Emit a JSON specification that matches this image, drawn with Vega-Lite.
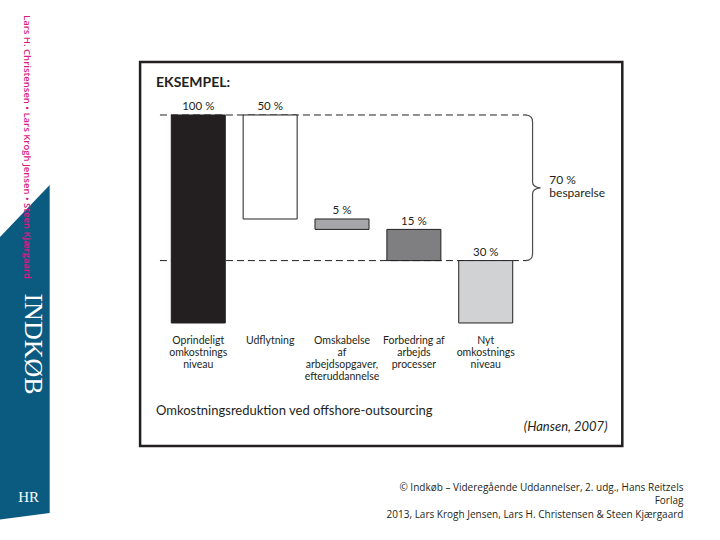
{
  "$schema": "https://vega.github.io/schema/vega-lite/v6.json",
  "width": 720,
  "height": 540,
  "autosize": {"type": "none"},
  "padding": 0,
  "background": "white",
  "config": {"view": {"stroke": null}, "axis": {"disable": true}, "legend": {"disable": true}},
  "data": {"values": [
    {"trin": 1, "navn": "Oprindeligt\nomkostnings\nniveau", "lo": 0, "hi": 100, "vaerdi": "100 %"},
    {"trin": 2, "navn": "Udflytning", "lo": 50, "hi": 100, "vaerdi": "50 %"},
    {"trin": 3, "navn": "Omskabelse\naf\narbejdsopgaver,\nefteruddannelse", "lo": 45, "hi": 50, "vaerdi": "5 %"},
    {"trin": 4, "navn": "Forbedring af\narbejds\nprocesser", "lo": 30, "hi": 45, "vaerdi": "15 %"},
    {"trin": 5, "navn": "Nyt\nomkostnings\nniveau", "lo": 0, "hi": 30, "vaerdi": "30 %"}
  ]},
  "layer": [
    {
      "data": {"values": [{}]},
      "mark": {"type": "point", "shape": "M-0.3,-1.2 L0.225,-1.75 L0.225,1.53 L-0.3,1.6 Z", "size": 40000, "filled": true, "color": "#0b5a80", "opacity": 1, "strokeWidth": 0},
      "encoding": {
        "x": {"datum": -1.38079, "type": "quantitative", "scale": {"domain": [-1.68954, 8.19039], "nice": false, "zero": false}, "axis": null},
        "y": {"datum": -17.788, "type": "quantitative", "scale": {"domain": [-104.327, 155.288], "nice": false, "zero": false}, "axis": null}
      }
    },
    {
      "data": {"values": [{}]},
      "mark": {"type": "text", "text": "Lars H. Christensen  •  Lars Krogh Jensen  •  Steen Kjærgaard", "angle": 90, "align": "center", "baseline": "middle", "font": "Open Sans", "fontWeight": 600, "fontSize": 9.5, "color": "#d81b84"},
      "encoding": {
        "x": {"datum": -1.38937, "type": "quantitative", "scale": {"domain": [-1.68954, 8.19039], "nice": false, "zero": false}, "axis": null},
        "y": {"datum": 84.615, "type": "quantitative", "scale": {"domain": [-104.327, 155.288], "nice": false, "zero": false}, "axis": null}
      }
    },
    {
      "data": {"values": [{}]},
      "mark": {"type": "text", "text": "INDKØB", "angle": 90, "align": "center", "baseline": "middle", "font": "Liberation Serif", "fontSize": 26, "color": "#ffffff"},
      "encoding": {
        "x": {"datum": -1.30532, "type": "quantitative", "scale": {"domain": [-1.68954, 8.19039], "nice": false, "zero": false}, "axis": null},
        "y": {"datum": -10.096, "type": "quantitative", "scale": {"domain": [-104.327, 155.288], "nice": false, "zero": false}, "axis": null}
      }
    },
    {
      "data": {"values": [{}]},
      "mark": {"type": "text", "text": "HR", "align": "center", "baseline": "middle", "font": "Liberation Serif", "fontSize": 15, "color": "#ffffff"},
      "encoding": {
        "x": {"datum": -1.36021, "type": "quantitative", "scale": {"domain": [-1.68954, 8.19039], "nice": false, "zero": false}, "axis": null},
        "y": {"datum": -83.654, "type": "quantitative", "scale": {"domain": [-104.327, 155.288], "nice": false, "zero": false}, "axis": null}
      }
    },
    {
      "data": {"values": [{}]},
      "mark": {"type": "rect", "fill": "#ffffff", "stroke": "#231f20", "strokeWidth": 2.5},
      "encoding": {
        "x": {"datum": 0.19039, "type": "quantitative", "scale": {"domain": [-1.68954, 8.19039], "nice": false, "zero": false}, "axis": null},
        "x2": {"datum": 6.9005},
        "y": {"datum": 125.481, "type": "quantitative", "scale": {"domain": [-104.327, 155.288], "nice": false, "zero": false}, "axis": null},
        "y2": {"datum": -59.135}
      }
    },
    {
      "data": {"values": [{}]},
      "mark": {"type": "text", "text": "EKSEMPEL:", "align": "left", "baseline": "alphabetic", "font": "Lato", "fontWeight": "bold", "fontSize": 14, "color": "#231f20"},
      "encoding": {
        "x": {"datum": 0.41166, "type": "quantitative", "scale": {"domain": [-1.68954, 8.19039], "nice": false, "zero": false}, "axis": null},
        "y": {"datum": 113.46, "type": "quantitative", "scale": {"domain": [-104.327, 155.288], "nice": false, "zero": false}, "axis": null}
      }
    },
    {
      "data": {"values": [{}]},
      "mark": {"type": "rule", "color": "#231f20", "strokeWidth": 1, "strokeDash": [7, 4]},
      "encoding": {
        "x": {"datum": 0.46655, "type": "quantitative", "scale": {"domain": [-1.68954, 8.19039], "nice": false, "zero": false}, "axis": null},
        "x2": {"datum": 5.5695},
        "y": {"datum": 100, "type": "quantitative", "scale": {"domain": [-104.327, 155.288], "nice": false, "zero": false}, "axis": null}
      }
    },
    {
      "data": {"values": [{}]},
      "mark": {"type": "rule", "color": "#231f20", "strokeWidth": 1, "strokeDash": [7, 4]},
      "encoding": {
        "x": {"datum": 0.46655, "type": "quantitative", "scale": {"domain": [-1.68954, 8.19039], "nice": false, "zero": false}, "axis": null},
        "x2": {"datum": 5.5695},
        "y": {"datum": 30, "type": "quantitative", "scale": {"domain": [-104.327, 155.288], "nice": false, "zero": false}, "axis": null}
      }
    },
    {
      "data": {"values": [{}]},
      "mark": {"type": "point", "shape": "M-0.096,-1 Q0,-1 0,-0.904 L0,-0.08 Q0,-0.01 0.11,0 Q0,0.01 0,0.08 L0,0.904 Q0,1 -0.096,1", "size": 21199, "filled": false, "color": "#4d4d4f", "opacity": 1, "strokeWidth": 1.2},
      "encoding": {
        "x": {"datum": 5.6518, "type": "quantitative", "scale": {"domain": [-1.68954, 8.19039], "nice": false, "zero": false}, "axis": null},
        "y": {"datum": 65, "type": "quantitative", "scale": {"domain": [-104.327, 155.288], "nice": false, "zero": false}, "axis": null}
      }
    },
    {
      "data": {"values": [{}]},
      "mark": {"type": "text", "text": "70 %\nbesparelse", "lineBreak": "\n", "lineHeight": 13.5, "align": "left", "baseline": "alphabetic", "font": "Lato", "fontSize": 12, "color": "#231f20"},
      "encoding": {
        "x": {"datum": 5.8851, "type": "quantitative", "scale": {"domain": [-1.68954, 8.19039], "nice": false, "zero": false}, "axis": null},
        "y": {"datum": 66.827, "type": "quantitative", "scale": {"domain": [-104.327, 155.288], "nice": false, "zero": false}, "axis": null}
      }
    },
    {
      "mark": {"type": "bar", "size": 54, "stroke": "#231f20", "strokeWidth": 1},
      "encoding": {
        "x": {"field": "trin", "type": "quantitative", "scale": {"domain": [-1.68954, 8.19039], "nice": false, "zero": false}, "axis": null},
        "y": {"field": "hi", "type": "quantitative", "scale": {"domain": [-104.327, 155.288], "nice": false, "zero": false}, "axis": null},
        "y2": {"field": "lo"},
        "fill": {"field": "trin", "type": "ordinal", "scale": {"domain": [1, 2, 3, 4, 5], "range": ["#231f20", "#ffffff", "#a7a7aa", "#7f7f81", "#d1d2d4"]}, "legend": null}
      }
    },
    {
      "mark": {"type": "text", "align": "center", "baseline": "alphabetic", "dy": -4.5, "font": "Lato", "fontSize": 11.5, "color": "#231f20"},
      "encoding": {
        "x": {"field": "trin", "type": "quantitative", "scale": {"domain": [-1.68954, 8.19039], "nice": false, "zero": false}, "axis": null},
        "y": {"field": "hi", "type": "quantitative", "scale": {"domain": [-104.327, 155.288], "nice": false, "zero": false}, "axis": null},
        "text": {"field": "vaerdi"}
      }
    },
    {
      "mark": {"type": "text", "align": "center", "baseline": "alphabetic", "dy": 21, "lineBreak": "\n", "lineHeight": 12, "font": "Lato", "fontSize": 10.5, "color": "#231f20"},
      "encoding": {
        "x": {"field": "trin", "type": "quantitative", "scale": {"domain": [-1.68954, 8.19039], "nice": false, "zero": false}, "axis": null},
        "y": {"datum": 0, "type": "quantitative", "scale": {"domain": [-104.327, 155.288], "nice": false, "zero": false}, "axis": null},
        "text": {"field": "navn"}
      }
    },
    {
      "data": {"values": [{}]},
      "mark": {"type": "text", "text": "Omkostningsreduktion ved offshore-outsourcing", "align": "left", "baseline": "alphabetic", "font": "Lato", "fontSize": 13, "color": "#231f20"},
      "encoding": {
        "x": {"datum": 0.41166, "type": "quantitative", "scale": {"domain": [-1.68954, 8.19039], "nice": false, "zero": false}, "axis": null},
        "y": {"datum": -44.231, "type": "quantitative", "scale": {"domain": [-104.327, 155.288], "nice": false, "zero": false}, "axis": null}
      }
    },
    {
      "data": {"values": [{}]},
      "mark": {"type": "text", "text": "(Hansen, 2007)", "align": "right", "baseline": "alphabetic", "font": "Lato", "fontStyle": "italic", "fontSize": 13, "color": "#231f20"},
      "encoding": {
        "x": {"datum": 6.6947, "type": "quantitative", "scale": {"domain": [-1.68954, 8.19039], "nice": false, "zero": false}, "axis": null},
        "y": {"datum": -51.923, "type": "quantitative", "scale": {"domain": [-104.327, 155.288], "nice": false, "zero": false}, "axis": null}
      }
    },
    {
      "data": {"values": [{}]},
      "mark": {"type": "text", "text": "© Indkøb – Videregående Uddannelser, 2. udg., Hans Reitzels\nForlag\n2013, Lars Krogh Jensen, Lars H. Christensen & Steen Kjærgaard", "lineBreak": "\n", "lineHeight": 13.3, "align": "right", "baseline": "alphabetic", "font": "Open Sans", "fontSize": 10, "color": "#231f20"},
      "encoding": {
        "x": {"datum": 7.7513, "type": "quantitative", "scale": {"domain": [-1.68954, 8.19039], "nice": false, "zero": false}, "axis": null},
        "y": {"datum": -80.769, "type": "quantitative", "scale": {"domain": [-104.327, 155.288], "nice": false, "zero": false}, "axis": null}
      }
    }
  ]
}
